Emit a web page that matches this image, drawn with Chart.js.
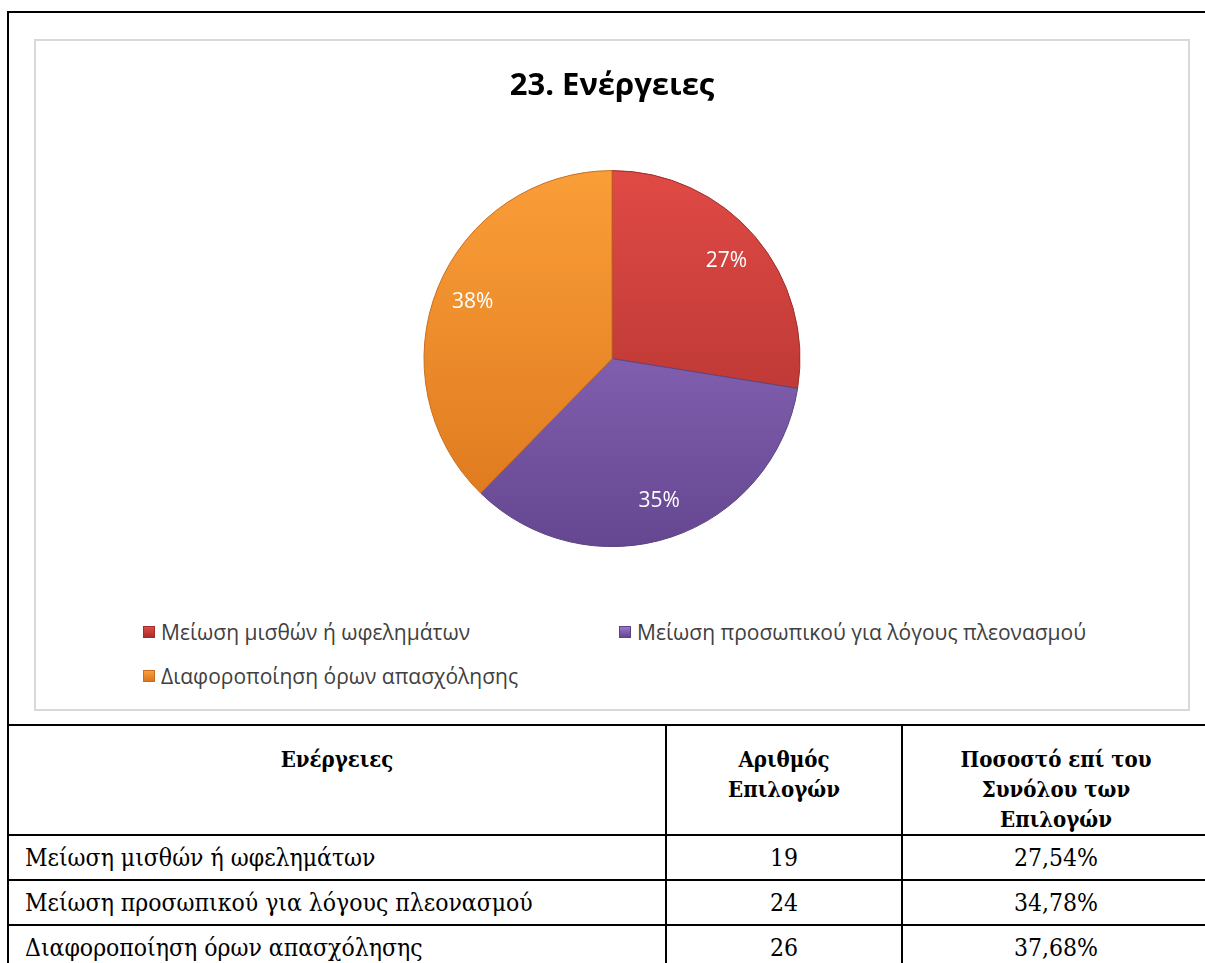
<!DOCTYPE html>
<html><head><meta charset="utf-8">
<script src="https://cdn.jsdelivr.net/npm/chart.js@4.4.0/dist/chart.umd.min.js"></script>
<style>
html,body{margin:0;padding:0;background:#fff;}
#page{position:relative;width:1205px;height:963px;overflow:hidden;}
#topline{position:absolute;left:7px;top:11px;width:1198px;height:2px;background:#000;}
#leftline{position:absolute;left:7px;top:11px;width:2px;height:716px;background:#000;}
#box{position:absolute;left:34px;top:39px;width:1156px;height:672px;box-sizing:border-box;border:2px solid #D9D9D9;}
#chartwrap{position:absolute;left:0;top:0;width:1205px;height:600px;}
.leg{position:absolute;font-family:'Open Sans';font-size:21px;color:#404040;display:flex;align-items:center;white-space:nowrap;height:30px;margin-top:-15px;}
.leg i{display:inline-block;width:12px;height:12px;margin-right:6px;box-sizing:border-box;}
#tbl{position:absolute;left:7px;top:724px;border-collapse:collapse;table-layout:fixed;width:1202px;font-family:'DejaVu Serif Condensed','DejaVu Serif';font-stretch:condensed;font-size:24.5px;color:#000;}
#tbl td,#tbl th{border:2px solid #000;padding:0;}
#tbl th{vertical-align:top;font-weight:bold;text-align:center;line-height:30px;padding-top:18px;height:89px;font-size:22px;}
#tbl td{height:43px;vertical-align:middle;text-align:center;}
#tbl td.first{text-align:left;padding-left:16px;}
</style></head>
<body><div id="page">
<div id="topline"></div><div id="leftline"></div>
<div id="box"></div>
<div id="chartwrap"><canvas id="c" width="1205" height="600"></canvas></div>
<div id="legend"></div>
<table id="tbl"><colgroup><col style="width:658px"><col style="width:236px"><col style="width:308px"></colgroup><thead><tr id="hdr"></tr></thead><tbody id="tbody"></tbody></table>
</div>
<script>
// ---- data ----
const chartTitle = '23. Ενέργειες';
const categories = ['Μείωση μισθών ή ωφελημάτων', 'Μείωση προσωπικού για λόγους πλεονασμού', 'Διαφοροποίηση όρων απασχόλησης'];
const counts = [19, 24, 26];
const pieLabels = ['27%', '35%', '38%'];
const percentages = ['27,54%', '34,78%', '37,68%'];
const tableHeaders = [['Ενέργειες'], ['Αριθμός', 'Επιλογών'], ['Ποσοστό επί του', 'Συνόλου των', 'Επιλογών']];

// ---- styles ----
const topColors = ['#E04A45', '#9A78CC', '#FA9E38'];
const bottomColors = ['#A82E2C', '#654690', '#DC761C'];
const edgeColors = ['#9E2E2C', '#5C4480', '#C86E1E'];
const legendPos = [[143, 632], [619, 632], [143, 676]];

const labelPlugin = {
  id: 'pctLabels',
  afterDatasetsDraw(chart) {
    const meta = chart.getDatasetMeta(0);
    const ctx = chart.ctx;
    ctx.save();
    ctx.font = '21px "Open Sans"';
    ctx.fillStyle = '#fff';
    ctx.textAlign = 'center';
    ctx.textBaseline = 'middle';
    meta.data.forEach((arc, i) => {
      const p = arc.getProps(['x', 'y', 'startAngle', 'endAngle', 'outerRadius'], true);
      const mid = (p.startAngle + p.endAngle) / 2;
      const r = p.outerRadius * 0.8;
      ctx.fillText(pieLabels[i], p.x + Math.cos(mid) * r, p.y + Math.sin(mid) * r);
    });
    ctx.restore();
  }
};

new Chart(document.getElementById('c'), {
  type: 'pie',
  data: {
    labels: categories,
    datasets: [{
      data: counts,
      backgroundColor: (c) => {
        const a = c.chart.chartArea;
        const i = c.dataIndex;
        if (!a) return topColors[i];
        const g = c.chart.ctx.createLinearGradient(0, a.top, 0, a.bottom);
        g.addColorStop(0, topColors[i]);
        g.addColorStop(1, bottomColors[i]);
        return g;
      },
      borderColor: edgeColors,
      borderWidth: 1,
      hoverOffset: 0,
      radius: 188
    }]
  },
  options: {
    responsive: false,
    animation: false,
    events: [],
    layout: { padding: { left: 424, right: 405, top: 62, bottom: 53 } },
    plugins: {
      legend: { display: false },
      tooltip: { enabled: false },
      title: {
        display: true,
        text: chartTitle,
        color: '#000',
        font: { family: 'Open Sans', size: 31, weight: 'bold', lineHeight: 1.2 },
        padding: { top: 6, bottom: 65 }
      }
    }
  },
  plugins: [labelPlugin]
});

// legend
const leg = document.getElementById('legend');
categories.forEach((name, i) => {
  const d = document.createElement('div');
  d.className = 'leg';
  d.style.left = legendPos[i][0] + 'px';
  d.style.top = legendPos[i][1] + 'px';
  const m = document.createElement('i');
  m.style.background = 'linear-gradient(' + topColors[i] + ',' + bottomColors[i] + ')';
  m.style.border = '1px solid ' + edgeColors[i];
  d.appendChild(m);
  d.appendChild(document.createTextNode(name));
  leg.appendChild(d);
});

// table
const hdr = document.getElementById('hdr');
tableHeaders.forEach(lines => {
  const th = document.createElement('th');
  lines.forEach((s, k) => {
    if (k) th.appendChild(document.createElement('br'));
    th.appendChild(document.createTextNode(s));
  });
  hdr.appendChild(th);
});
const tb = document.getElementById('tbody');
categories.forEach((name, i) => {
  const tr = document.createElement('tr');
  [name, String(counts[i]), percentages[i]].forEach((v, j) => {
    const td = document.createElement('td');
    if (j === 0) td.className = 'first';
    td.textContent = v;
    tr.appendChild(td);
  });
  tb.appendChild(tr);
});
</script>
</body></html>
